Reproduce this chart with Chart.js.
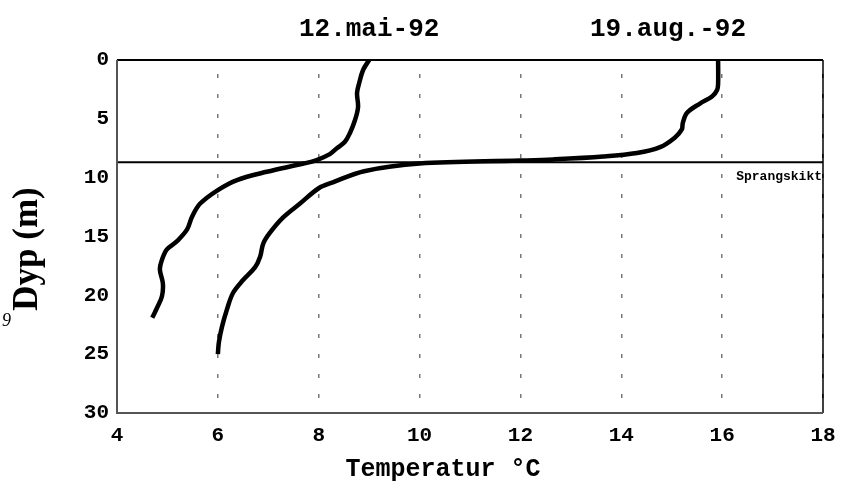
<!DOCTYPE html>
<html>
<head>
<meta charset="utf-8">
<script src="https://cdn.jsdelivr.net/npm/chart.js@4"></script>
<style>
  html, body { margin: 0; padding: 0; background: #fff; }
  #wrap { width: 841px; height: 492px; }
</style>
</head>
<body>
<div id="wrap"><canvas id="chart" width="841" height="492"></canvas></div>
<script>
// temperature profiles: temp (°C) vs depth (m)
const maiTemp  = [9.0, 8.88, 8.80, 8.76, 8.78, 8.72, 8.62, 8.52, 8.36, 8.22, 7.96, 7.70, 6.97, 6.38, 6.0, 5.65, 5.49, 5.39, 5.19, 4.99, 4.89, 4.85, 4.91, 4.89, 4.79, 4.70];
const maiDepth = [0, 0.85, 2.0, 2.8, 4.0, 5.1, 6.2, 6.95, 7.5, 8.0, 8.5, 8.8, 9.5, 10.2, 11.05, 12.2, 13.3, 14.4, 15.4, 16.1, 17.0, 17.8, 19.0, 20.1, 21.1, 21.9];

const augTemp  = [15.92, 15.92, 15.90, 15.80, 15.56, 15.30, 15.22, 15.20, 15.06, 14.77, 14.31, 13.64, 12.65, 11.99, 10.0, 8.9, 8.28, 8.0, 7.63, 7.29, 7.03, 6.9, 6.84, 6.74, 6.5, 6.3, 6.18, 6.08, 6.02, 6.0];
const augDepth = [0, 2.0, 2.55, 3.1, 3.7, 4.5, 5.35, 5.9, 6.6, 7.4, 7.9, 8.2, 8.45, 8.55, 8.8, 9.45, 10.4, 10.9, 12.2, 13.4, 14.7, 15.6, 16.7, 17.6, 18.7, 19.8, 21.2, 22.7, 24.0, 25.0];

const thermoclineDepth = 8.7;
const xTicks = [4, 6, 8, 10, 12, 14, 16, 18];
const yTicks = [0, 5, 10, 15, 20, 25, 30];

const toPoints = (xs, ys) => xs.map((x, i) => ({ x: x, y: ys[i] }));

// frame + free text drawn on top
const decor = {
    id: "decor",
    afterDraw(chart) {
        const { ctx, chartArea: a } = chart;
        const xs = chart.scales.x, ys = chart.scales.y;
        ctx.save();
        // frame
        ctx.lineWidth = 2;
        ctx.strokeStyle = "#000";
        ctx.beginPath();
        ctx.moveTo(a.left, a.top); ctx.lineTo(a.right, a.top);
        ctx.stroke();
        ctx.lineWidth = 1.5;
        ctx.beginPath();
        ctx.moveTo(a.right, a.top); ctx.lineTo(a.right, a.bottom);
        ctx.stroke();
        ctx.strokeStyle = "#555";
        ctx.lineWidth = 2;
        ctx.beginPath();
        ctx.moveTo(a.left, a.top); ctx.lineTo(a.left, a.bottom); ctx.lineTo(a.right, a.bottom);
        ctx.stroke();

        ctx.fillStyle = "#000";
        // date titles
        ctx.font = "bold 26px 'Liberation Mono'";
        ctx.textAlign = "center";
        ctx.textBaseline = "middle";
        ctx.fillText("12.mai-92", xs.getPixelForValue(9.0), 29);
        ctx.fillText("19.aug.-92", 668, 29);

        // thermocline label
        ctx.font = "bold 13px 'Liberation Mono'";
        ctx.textAlign = "right";
        ctx.fillText("Sprangskikt", a.right - 1, ys.getPixelForValue(thermoclineDepth) + 14);

        // axis titles
        ctx.font = "bold 25px 'Liberation Mono'";
        ctx.textAlign = "center";
        ctx.fillText("Temperatur °C", 443, 470);

        ctx.save();
        ctx.translate(28, 249);
        ctx.rotate(-Math.PI / 2);
        ctx.font = "bold 35px 'Liberation Serif'";
        ctx.fillText("Dyp (m)", 0, 0);
        ctx.restore();

        ctx.font = "italic 18px 'Liberation Serif'";
        ctx.textAlign = "left";
        ctx.fillText("9", 2, 321);
        ctx.restore();
    }
};

new Chart(document.getElementById("chart"), {
    type: "scatter",
    data: {
        datasets: [
            {
                label: "12.mai-92",
                data: toPoints(maiTemp, maiDepth),
                showLine: true,
                borderColor: "#000",
                borderWidth: 4.5,
                pointRadius: 0,
                tension: 0.35
            },
            {
                label: "19.aug.-92",
                data: toPoints(augTemp, augDepth),
                showLine: true,
                borderColor: "#000",
                borderWidth: 4.5,
                pointRadius: 0,
                tension: 0.35
            },
            {
                label: "Sprangskikt",
                data: [{ x: 4, y: thermoclineDepth }, { x: 18, y: thermoclineDepth }],
                showLine: true,
                borderColor: "#000",
                borderWidth: 2,
                pointRadius: 0
            }
        ]
    },
    options: {
        responsive: false,
        animation: false,
        layout: { padding: { top: 60, right: 18, left: 0, bottom: 0 } },
        plugins: { legend: { display: false }, tooltip: { enabled: false } },
        scales: {
            x: {
                type: "linear",
                min: 4, max: 18,
                afterBuildTicks: s => { s.ticks = xTicks.map(v => ({ value: v })); },
                afterFit: s => { s.height = 79; s.paddingLeft = 0; s.paddingRight = 0; },
                ticks: {
                    color: "#000",
                    font: { family: "'Liberation Mono'", weight: "bold", size: 21 },
                    padding: 10
                },
                grid: {
                    drawTicks: false,
                    color: ctx => (ctx.tick && (ctx.tick.value === 4 || ctx.tick.value === 18)) ? "#222" : "#777",
                    lineWidth: 1.5
                },
                border: { display: false, dash: [4, 16], dashOffset: 6 }
            },
            y: {
                type: "linear",
                reverse: true,
                min: 0, max: 30,
                afterBuildTicks: s => { s.ticks = yTicks.map(v => ({ value: v })); },
                afterFit: s => { s.width = 117; },
                ticks: {
                    color: "#000",
                    font: { family: "'Liberation Mono'", weight: "bold", size: 21 },
                    padding: 8
                },
                grid: { display: false, drawTicks: false },
                border: { display: false }
            }
        }
    },
    plugins: [decor]
});
</script>
</body>
</html>
